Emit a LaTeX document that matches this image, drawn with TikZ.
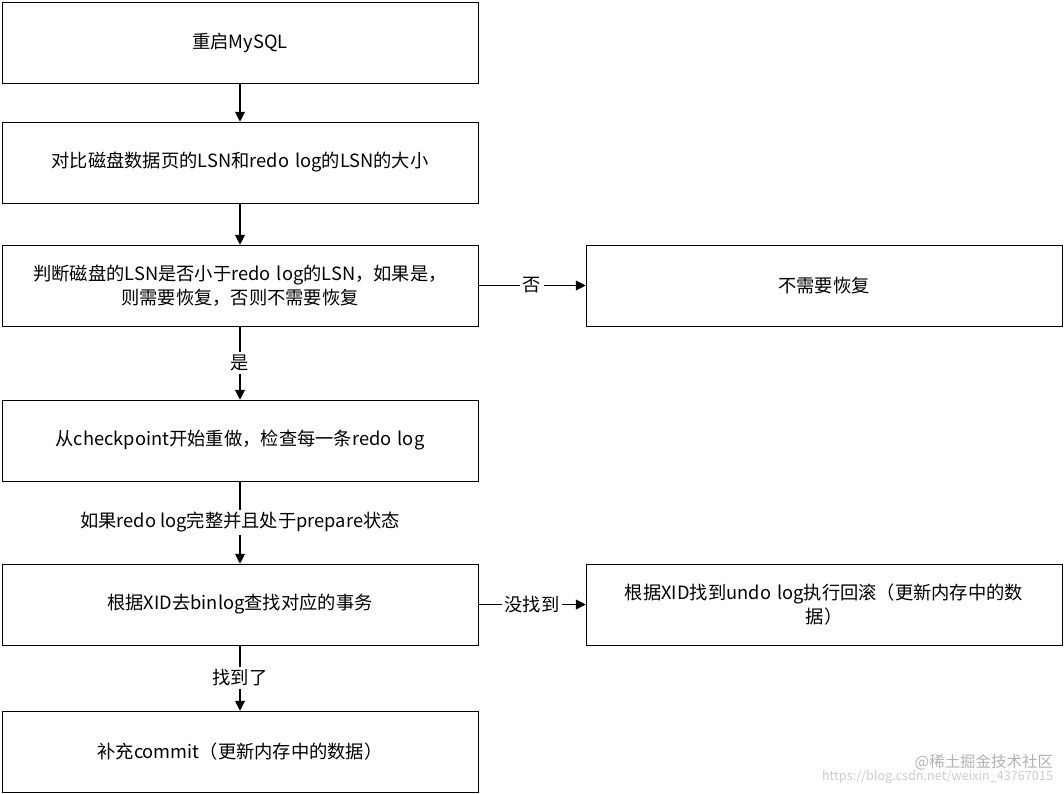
\documentclass[tikz,border=0pt]{standalone}
\usepackage{fontspec}
\setmainfont{Noto Sans CJK SC}
\usetikzlibrary{arrows.meta}
\tikzset{
  stepbox/.style={draw, minimum width=476*0.025cm, minimum height=81*0.025cm, align=center, text width=460*0.025cm},
  flow/.style={-{Triangle[length=7pt,width=7pt]}, thick},
  lbl/.style={fill=white, inner sep=2pt}
}
\begin{document}
\begin{tikzpicture}[x=0.025cm, y=-0.025cm, font=\fontsize{13}{17}\selectfont]
	\useasboundingbox (0,0) rectangle (1064,794);
	% Define nodes
	\node[stepbox] (restart) at (240,42.5) {重启MySQL};
	\node[stepbox] (compare) at (240,162.5) {对比磁盘数据页的LSN和redo log的LSN的大小};
	\node[stepbox] (judge) at (240,285.5) {判断磁盘的LSN是否小于redo log的LSN，如果是，\\则需要恢复，否则不需要恢复};
	\node[stepbox] (norec) at (824,285.5) {不需要恢复};
	\node[stepbox] (redo) at (240,440.5) {从checkpoint开始重做，检查每一条redo log};
	\node[stepbox] (xid) at (240,604.5) {根据XID去binlog查找对应的事务};
	\node[stepbox] (undo) at (824,604.5) {根据XID找到undo log执行回滚（更新内存中的数\\据）};
	\node[stepbox] (commit) at (240,751.5) {补充commit（更新内存中的数据）};
	% Connect the nodes
	\draw[flow] (restart) -- (compare);
	\draw[flow] (compare) -- (judge);
	\draw[flow] (judge) -- node[lbl] {否} (norec);
	\draw[flow] (judge) -- node[lbl] {是} (redo);
	\draw[flow] (redo) -- node[lbl] {如果redo log完整并且处于prepare状态} (xid);
	\draw[flow] (xid) -- node[lbl] {没找到} (undo);
	\draw[flow] (xid) -- node[lbl] {找到了} (commit);
	% watermark
	\node[gray!60, anchor=east, font=\fontsize{11}{13}\selectfont] (mark) at (1058,762) {@稀土掘金技术社区};
	\node[gray!40, anchor=east, font=\fontsize{9}{11}\selectfont] (url) at (1058,777) {https://blog.csdn.net/weixin\_43767015};
\end{tikzpicture}
\end{document}
